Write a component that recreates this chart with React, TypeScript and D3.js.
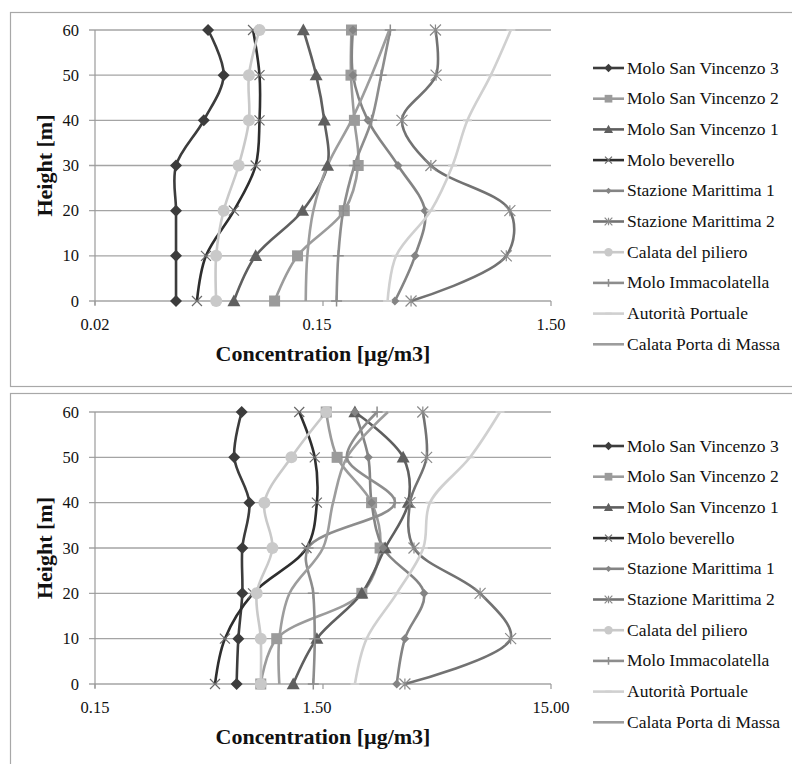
import React from "react";
import * as d3 from "d3";

// heights of the measuring points [m]
const heights = [0, 10, 20, 30, 40, 50, 60];
const heightTicks = [0, 10, 20, 30, 40, 50, 60];

const seriesNames = [
  "Molo San Vincenzo 3",
  "Molo San Vincenzo 2",
  "Molo San Vincenzo 1",
  "Molo beverello",
  "Stazione Marittima 1",
  "Stazione Marittima 2",
  "Calata del piliero",
  "Molo Immacolatella",
  "Autorità Portuale",
  "Calata Porta di Massa",
];

// upper chart, concentration per height (0..60 m)
const upperSV3 = [0.034, 0.034, 0.034, 0.034, 0.045, 0.055, 0.047];
const upperSV2 = [0.092, 0.116, 0.186, 0.214, 0.206, 0.199, 0.2];
const upperSV1 = [0.061, 0.076, 0.122, 0.157, 0.152, 0.14, 0.123];
const upperBeverello = [0.042, 0.046, 0.061, 0.076, 0.079, 0.079, 0.074];
const upperSM1 = [0.31, 0.38, 0.42, 0.32, 0.236, 0.203, 0.203];
const upperSM2 = [0.365, 0.955, 0.99, 0.446, 0.333, 0.47, 0.467];
const upperPiliero = [0.051, 0.051, 0.055, 0.064, 0.071, 0.071, 0.079];
const upperImmacolatella = [0.172, 0.175, 0.184, 0.206, 0.245, 0.27, 0.296];
const upperAutorita = [0.288, 0.314, 0.446, 0.555, 0.645, 0.817, 1.0];
const upperPortaMassa = [0.126, 0.128, 0.136, 0.157, 0.2, 0.245, 0.293];
const upperTicks = [0.015, 0.15, 1.5];
const upperTickLabels = ["0.02", "0.15", "1.50"];

// lower chart
const lowerSV3 = [0.627, 0.638, 0.664, 0.664, 0.713, 0.612, 0.66];
const lowerSV2 = [0.8, 0.94, 2.22, 2.67, 2.45, 1.73, 1.55];
const lowerSV1 = [1.11, 1.41, 2.22, 2.81, 3.55, 3.37, 2.07];
const lowerBeverello = [0.504, 0.557, 0.74, 1.27, 1.41, 1.38, 1.18];
const lowerSM1 = [3.16, 3.43, 4.16, 2.75, 2.45, 2.37, 2.07];
const lowerSM2 = [3.43, 9.98, 7.33, 3.76, 3.61, 4.27, 4.11];
const lowerPiliero = [0.8, 0.8, 0.768, 0.9, 0.83, 1.09, 1.55];
const lowerImmacolatella = [1.36, 1.38, 1.36, 1.29, 3.1, 1.91, 2.59];
const lowerAutorita = [2.07, 2.33, 3.16, 4.13, 4.42, 6.62, 8.96];
const lowerPortaMassa = [0.965, 0.965, 1.07, 1.5, 1.66, 1.91, 2.89];
const lowerTicks = [0.15, 1.5, 15];
const lowerTickLabels = ["0.15", "1.50", "15.00"];

// look of each series (same order as seriesNames)
const styles = [
  { color: "#3c3c3c", marker: "diamond", size: 12 },
  { color: "#9b9b9b", marker: "square", size: 11 },
  { color: "#5f5f5f", marker: "triangle", size: 13 },
  { color: "#2e2e2e", marker: "x", size: 10 },
  { color: "#848484", marker: "diamond", size: 9 },
  { color: "#727272", marker: "asterisk", size: 11 },
  { color: "#c9c9c9", marker: "circle", size: 12 },
  { color: "#8d8d8d", marker: "plus", size: 11 },
  { color: "#d0d0d0", marker: "dash", size: 9 },
  { color: "#9d9d9d", marker: "none", size: 0 },
];

const FONT = "Liberation Serif, Times New Roman, serif";
const X0 = 95;
const X1 = 551;

function Marker({ type, x, y, s, color }) {
  const h = s / 2;
  if (type === "diamond")
    return <path d={`M${x},${y - h}L${x + h},${y}L${x},${y + h}L${x - h},${y}Z`} fill={color} />;
  if (type === "square")
    return <rect x={x - h} y={y - h} width={s} height={s} fill={color} />;
  if (type === "triangle")
    return <path d={`M${x},${y - h}L${x + h},${y + h * 0.8}L${x - h},${y + h * 0.8}Z`} fill={color} />;
  if (type === "circle") return <circle cx={x} cy={y} r={h} fill={color} />;
  if (type === "x")
    return (
      <path d={`M${x - h},${y - h}L${x + h},${y + h}M${x - h},${y + h}L${x + h},${y - h}`} stroke="#6a6a6a" strokeWidth={1.2} />
    );
  if (type === "asterisk")
    return (
      <path
        d={`M${x - h},${y - h}L${x + h},${y + h}M${x - h},${y + h}L${x + h},${y - h}M${x},${y - h}L${x},${y + h}`}
        stroke="#8a8a8a"
        strokeWidth={1.2}
      />
    );
  if (type === "plus")
    return <path d={`M${x - h},${y}L${x + h},${y}M${x},${y - h}L${x},${y + h}`} stroke={color} strokeWidth={1.5} />;
  if (type === "dash") return <path d={`M${x - h},${y}L${x + h},${y}`} stroke={color} strokeWidth={2} />;
  return null;
}

function Panel({ boxTop, boxBottom, yZero, ySixty, domain, ticks, tickLabels, data, legendTop }) {
  const x = d3.scaleLog().domain(domain).range([X0, X1]);
  const y = d3.scaleLinear().domain([0, 60]).range([yZero, ySixty]);
  const line = d3
    .line<number>()
    .x((d) => x(d))
    .y((d, i) => y(heights[i]))
    .curve(d3.curveCatmullRom.alpha(0.5));
  const txt = { fontFamily: FONT };

  return (
    <g>
      <rect x={10.5} y={boxTop + 0.5} width={800} height={boxBottom - boxTop} fill="#fff" stroke="#a8a8a8" strokeWidth={1.2} />
      {heightTicks.map((t) => (
        <g key={t}>
          <line x1={X0 - 6} x2={X1} y1={y(t)} y2={y(t)} stroke="#a4a4a4" strokeWidth={1.4} />
          <text x={79} y={y(t) + 5.5} textAnchor="end" fontSize={16.5} style={txt} fill="#111">
            {t}
          </text>
        </g>
      ))}
      <line x1={X0} x2={X0} y1={ySixty} y2={yZero + 4} stroke="#9a9a9a" strokeWidth={1.2} />
      {ticks.map((t, i) => (
        <g key={t}>
          <line x1={x(t)} x2={x(t)} y1={yZero} y2={yZero + 5} stroke="#9a9a9a" strokeWidth={1.2} />
          <text x={x(t) - (i === 1 ? 6 : 0)} y={yZero + 29} textAnchor="middle" fontSize={16.5} style={txt} fill="#111">
            {tickLabels[i]}
          </text>
        </g>
      ))}
      <text x={323} y={yZero + 60} textAnchor="middle" fontSize={22} fontWeight="bold" style={txt} fill="#111">
        Concentration [µg/m3]
      </text>
      <text
        transform={`translate(52,${(yZero + ySixty) / 2}) rotate(-90)`}
        textAnchor="middle"
        fontSize={22}
        fontWeight="bold"
        style={txt}
        fill="#111"
      >
        Height [m]
      </text>
      {data.map((values, si) => (
        <path key={si} d={line(values) || ""} fill="none" stroke={styles[si].color} strokeWidth={2.6} />
      ))}
      {data.map((values, si) =>
        values.map((v, i) => (
          <Marker key={`${si}-${i}`} type={styles[si].marker} x={x(v)} y={y(heights[i])} s={styles[si].size} color={styles[si].color} />
        ))
      )}
      {seriesNames.map((name, i) => {
        const ly = legendTop + i * 30.7;
        return (
          <g key={name}>
            <line x1={593} x2={624} y1={ly} y2={ly} stroke={styles[i].color} strokeWidth={2.6} />
            <Marker type={styles[i].marker} x={608.5} y={ly} s={styles[i].size * 0.7} color={styles[i].color} />
            <text x={627} y={ly + 5.5} fontSize={17.5} style={txt} fill="#111">
              {name}
            </text>
          </g>
        );
      })}
    </g>
  );
}

export default function App() {
  const upper = [
    upperSV3, upperSV2, upperSV1, upperBeverello, upperSM1,
    upperSM2, upperPiliero, upperImmacolatella, upperAutorita, upperPortaMassa,
  ];
  const lower = [
    lowerSV3, lowerSV2, lowerSV1, lowerBeverello, lowerSM1,
    lowerSM2, lowerPiliero, lowerImmacolatella, lowerAutorita, lowerPortaMassa,
  ];
  return (
    <svg width={792} height={764} style={{ position: "absolute", left: 0, top: 0, background: "#fff" }}>
      <rect width={792} height={764} fill="#fff" />
      <Panel
        boxTop={12}
        boxBottom={386}
        yZero={301}
        ySixty={30}
        domain={[0.015, 1.5]}
        ticks={upperTicks}
        tickLabels={upperTickLabels}
        data={upper}
        legendTop={68}
      />
      <Panel
        boxTop={393}
        boxBottom={800}
        yZero={684}
        ySixty={412}
        domain={[0.15, 15]}
        ticks={lowerTicks}
        tickLabels={lowerTickLabels}
        data={lower}
        legendTop={446}
      />
    </svg>
  );
}
